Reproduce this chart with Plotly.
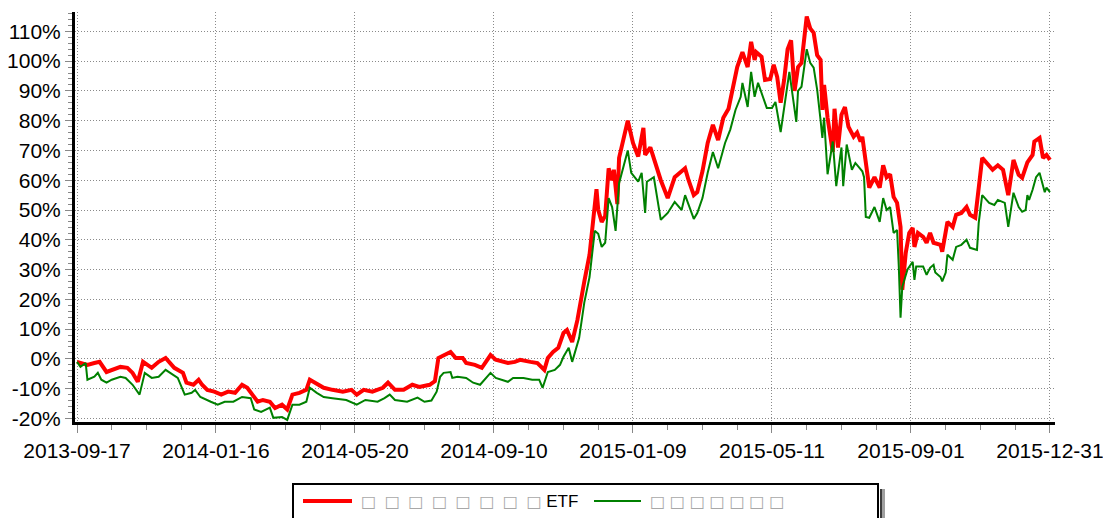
import plotly.graph_objects as go

# trading-day index (0 = 2013-09-17, 560 = 2015-12-31) and cumulative return in %
etf_day = [0, 2, 6, 10, 13, 17, 21, 25, 29, 32, 35, 38, 43, 47, 51, 54, 56, 61, 63, 67, 70, 72, 75, 79, 83, 87,
           91, 95, 98, 104, 107, 111, 114, 118, 121, 124, 128, 132, 134, 137, 142, 147, 153, 158, 161, 165, 170,
           176, 179, 183, 188, 193, 197, 203, 206, 208, 211, 215, 218, 222, 224, 229, 233, 238, 241, 245, 248,
           252, 255, 261, 265, 269, 271, 274, 277, 280, 282, 285, 288, 292, 295, 299, 300, 302, 304, 306, 308,
           309, 311, 312, 317, 320, 323, 326, 327, 330, 336, 340, 344, 347, 350, 352, 355, 357, 360, 363, 366,
           369, 372, 375, 378, 380, 383, 386, 388, 390, 391, 394, 396, 399, 401, 403, 405, 407, 409, 411, 413,
           415, 417, 420, 422, 424, 426, 428, 429, 430, 432, 435, 436, 438, 440, 442, 444, 447, 449, 451, 452,
           455, 456, 459, 462, 464, 466, 468, 470, 472, 474, 475, 477, 479, 481, 482, 484, 487, 489, 491, 493,
           497, 498, 501, 504, 506, 509, 512, 514, 517, 519, 521, 527, 530, 533, 536, 539, 542, 544, 547, 550,
           551, 554, 556, 558, 560]
etf_ret = [-1.0, -1.4, -2.0, -1.4, -1.0, -4.4, -3.7, -2.7, -3.0, -4.7, -7.7, -1.0, -3.0, -1.0, 0.3, -1.4, -3.0,
           -4.7, -8.0, -8.7, -7.0, -8.7, -10.4, -11.0, -12.0, -11.0, -11.4, -8.7, -9.7, -14.4, -13.8, -14.4,
           -16.5, -15.4, -17.0, -12.0, -11.4, -10.4, -7.0, -8.0, -9.7, -10.4, -11.0, -10.4, -12.0, -10.4, -11.0,
           -9.7, -8.0, -10.4, -10.4, -8.7, -9.4, -8.7, -7.5, 0.3, 1.3, 2.3, 0.3, 0.3, -1.4, -2.0, -3.0, 1.3,
           -0.3, -1.0, -1.4, -1.0, -0.3, -1.0, -1.4, -3.7, 0.3, 2.3, 3.7, 8.7, 9.7, 5.7, 13.0, 26.0, 35.0, 57.0,
           50.0, 46.0, 48.0, 64.0, 60.0, 63.5, 52.0, 67.5, 80.0, 72.5, 68.0, 77.6, 68.5, 71.0, 60.0, 54.0, 61.0,
           62.5, 64.0, 60.0, 55.0, 56.0, 63.0, 72.5, 78.6, 73.5, 81.0, 84.0, 93.0, 98.0, 103.0, 98.0, 106.5,
           100.4, 103.0, 101.5, 93.7, 94.0, 98.8, 94.7, 86.0, 93.7, 104.0, 107.0, 90.0, 98.0, 99.4, 115.0,
           111.0, 109.5, 102.0, 100.4, 83.6, 92.0, 81.0, 69.5, 84.0, 71.0, 82.0, 84.6, 78.0, 74.6, 76.0, 73.0,
           74.6, 62.5, 57.5, 61.0, 57.5, 65.0, 61.0, 62.0, 54.4, 52.4, 44.3, 23.2, 35.6, 42.3, 44.0, 37.6, 42.3,
           41.0, 39.0, 42.3, 39.0, 38.3, 36.0, 46.0, 44.3, 48.4, 49.0, 51.0, 48.4, 47.4, 59.0, 67.5, 63.5, 65.0,
           63.5, 55.0, 66.8, 61.8, 60.8, 66.0, 68.5, 73.0, 74.2, 67.5, 68.5, 66.8]

idx_day = [0, 2, 5, 6, 10, 12, 14, 17, 20, 25, 28, 32, 36, 39, 43, 47, 51, 55, 58, 62, 66, 68, 71, 77, 81, 85,
           90, 95, 100, 102, 106, 111, 113, 118, 121, 124, 128, 132, 134, 138, 142, 147, 155, 161, 166, 173,
           177, 180, 183, 190, 196, 200, 204, 207, 209, 211, 215, 216, 219, 224, 228, 232, 238, 241, 245, 248,
           251, 257, 262, 266, 268, 271, 275, 278, 280, 283, 285, 289, 292, 295, 298, 300, 302, 304, 306, 308,
           310, 312, 317, 319, 323, 325, 327, 328, 332, 336, 340, 344, 348, 350, 355, 357, 360, 363, 366, 369,
           373, 376, 379, 382, 383, 386, 388, 390, 392, 395, 397, 400, 402, 405, 407, 410, 412, 414, 415, 417,
           420, 422, 424, 426, 428, 429, 430, 432, 435, 437, 440, 441, 443, 446, 448, 452, 453, 454, 456, 459,
           462, 464, 466, 468, 470, 472, 473, 474, 475, 478, 481, 482, 483, 487, 489, 491, 493, 494, 497, 498,
           500, 501, 504, 506, 509, 512, 514, 518, 519, 521, 525, 528, 530, 534, 536, 539, 542, 544, 546, 547,
           548, 550, 552, 554, 557, 558, 560]
idx_ret = [-1.0, -2.7, -1.4, -7.0, -6.0, -4.7, -7.0, -8.0, -7.0, -6.0, -6.4, -8.7, -12.0, -4.7, -6.4, -6.0,
           -3.7, -5.4, -6.4, -12.0, -11.4, -10.4, -12.8, -14.4, -15.4, -14.4, -14.4, -12.8, -13.2, -17.0, -17.8,
           -16.4, -19.8, -19.5, -20.5, -15.4, -15.4, -14.4, -9.7, -11.4, -12.8, -13.2, -13.8, -15.4, -13.8,
           -14.4, -13.2, -12.0, -13.8, -14.4, -13.0, -14.4, -14.0, -11.0, -6.0, -4.7, -4.4, -6.4, -6.0, -6.4,
           -8.0, -8.7, -4.7, -6.4, -7.0, -7.7, -6.4, -6.4, -7.0, -7.0, -9.7, -4.4, -3.7, -2.0, 0.7, 3.7, -1.0,
           7.0, 19.0, 27.5, 43.0, 42.0, 37.6, 39.0, 54.0, 51.0, 43.0, 59.0, 70.0, 62.5, 59.5, 62.5, 49.0, 59.5,
           61.0, 46.7, 49.0, 52.7, 50.0, 55.0, 47.0, 49.0, 54.0, 62.5, 69.5, 64.0, 72.5, 77.0, 83.6, 88.0, 92.7,
           84.6, 96.4, 88.0, 92.7, 88.0, 84.3, 84.3, 86.3, 76.2, 84.3, 96.4, 88.0, 79.6, 90.0, 91.4, 104.0, 99.4,
           97.8, 90.4, 80.0, 74.2, 81.0, 62.0, 73.0, 58.0, 71.0, 58.0, 72.0, 63.5, 65.8, 63.0, 61.0, 47.7, 47.4,
           51.0, 46.0, 54.0, 50.0, 51.0, 42.3, 43.3, 31.0, 13.8, 24.2, 30.0, 32.6, 26.5, 31.0, 31.0, 28.2, 30.6,
           31.6, 29.0, 27.5, 26.0, 29.0, 35.0, 33.3, 37.6, 38.3, 40.0, 37.3, 36.6, 45.7, 55.0, 52.4, 51.7, 53.4,
           52.4, 44.3, 55.8, 51.0, 49.4, 50.0, 55.0, 53.4, 56.8, 61.0, 62.5, 56.0, 57.5, 56.0]

x_tick_vals = [0, 80, 160, 240, 320, 400, 480, 560]
x_tick_text = ["2013-09-17", "2014-01-16", "2014-05-20", "2014-09-10",
               "2015-01-09", "2015-05-11", "2015-09-01", "2015-12-31"]
y_tick_vals = [-20, -10, 0, 10, 20, 30, 40, 50, 60, 70, 80, 90, 100, 110]
y_tick_text = ["-20%", "-10%", "0%", "10%", "20%", "30%", "40%", "50%", "60%", "70%",
               "80%", "90%", "100%", "110%"]

NB = "\u00a0"
EN = "\u2002"
BOX = "<span style=\"color:#a8a8a8;font-family:'DejaVu Sans';font-size:16px\">\u25a1</span>"
name_etf = EN.join([BOX] * 8) + NB + "ETF"
name_idx = NB.join([BOX] * 7)

FONT = "Liberation Sans, Arial, sans-serif"

# page geometry (pixels) -> paper coordinates helpers
W, H = 1103, 518
ML, MR, MT, MB = 75, 48, 12, 96
PW, PH = W - ML - MR, H - MT - MB


def px(xp):
    return (xp - ML) / PW


def py(yp):
    return (H - MB - yp) / PH


fig = go.Figure()
fig.add_trace(go.Scatter(x=etf_day, y=etf_ret, mode="lines", name=name_etf,
                         line=dict(color="#ff0000", width=4), showlegend=False))
fig.add_trace(go.Scatter(x=idx_day, y=idx_ret, mode="lines", name=name_idx,
                         line=dict(color="#008000", width=2), showlegend=False))

# legend drawn as a framed panel below the plot
shapes = [
    dict(type="rect", xref="paper", yref="paper", x0=px(880), x1=px(882), y0=py(489), y1=py(560),
         fillcolor="#3c3c3c", line=dict(width=0), layer="above"),
    dict(type="rect", xref="paper", yref="paper", x0=px(882), x1=px(885), y0=py(489), y1=py(560),
         fillcolor="#a0a0a0", line=dict(width=0), layer="above"),
    dict(type="rect", xref="paper", yref="paper", x0=px(293), x1=px(878), y0=py(484), y1=py(560),
         fillcolor="white", line=dict(color="black", width=2), layer="above"),
    dict(type="line", xref="paper", yref="paper", x0=px(303), x1=px(352), y0=py(501), y1=py(501),
         line=dict(color="#ff0000", width=4), layer="above"),
    dict(type="line", xref="paper", yref="paper", x0=px(594), x1=px(641), y0=py(501), y1=py(501),
         line=dict(color="#008000", width=2), layer="above"),
]
annotations = [
    dict(xref="paper", yref="paper", x=px(359), y=py(501), xanchor="left", yanchor="middle",
         text=name_etf, showarrow=False, font=dict(family=FONT, size=17, color="black")),
    dict(xref="paper", yref="paper", x=px(648), y=py(501), xanchor="left", yanchor="middle",
         text=name_idx, showarrow=False, font=dict(family=FONT, size=17, color="black")),
]

fig.update_layout(
    width=W, height=H,
    margin=dict(l=ML, r=MR, t=MT, b=MB),
    paper_bgcolor="white", plot_bgcolor="white",
    font=dict(family=FONT, size=21, color="black"),
    showlegend=False,
    shapes=shapes, annotations=annotations,
    xaxis=dict(range=[-1.15, 562.9], tickmode="array", tickvals=x_tick_vals, ticktext=x_tick_text,
               automargin=False, ticklabeloverflow="allow",
               showline=True, linecolor="black", linewidth=3, zeroline=False,
               ticks="outside", ticklen=8, tickwidth=1, tickcolor="#888888",
               showgrid=True, gridcolor="#8a8a8a", griddash="1px,2px", gridwidth=1,
               minor=dict(dtick=20, tick0=0, ticks="outside", ticklen=5, tickcolor="#888888", showgrid=False),
               tickfont=dict(size=21)),
    yaxis=dict(range=[-21.2, 116.5], tickmode="array", tickvals=y_tick_vals, ticktext=y_tick_text,
               automargin=False,
               showline=True, linecolor="black", linewidth=3, zeroline=False,
               ticks="outside", ticklen=7, tickwidth=1, tickcolor="#888888",
               showgrid=True, gridcolor="#8a8a8a", griddash="1px,2px", gridwidth=1,
               minor=dict(dtick=2, tick0=0, ticks="outside", ticklen=4, tickcolor="#888888", showgrid=False),
               tickfont=dict(size=21)),
)

fig.write_html("out.html", config={"displayModeBar": False},
               post_script="document.body.style.margin='0';")
